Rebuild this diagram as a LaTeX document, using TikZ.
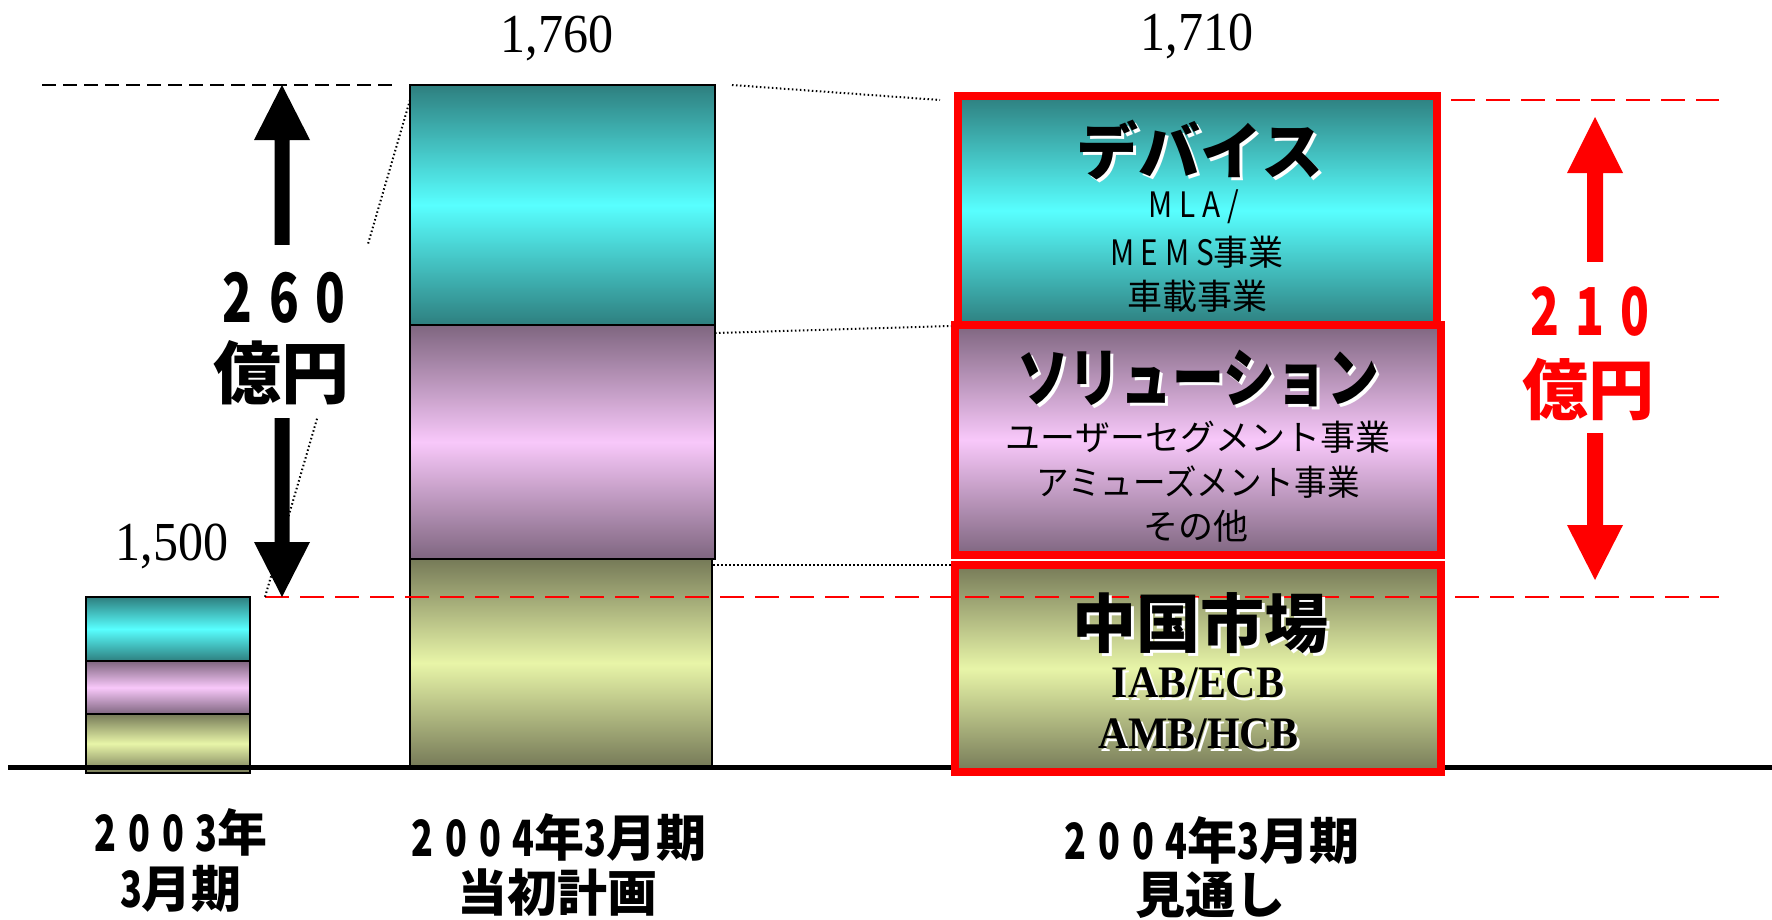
\documentclass[tikz,border=0pt]{standalone}
\usepackage{fontspec}
\usepackage{graphicx}
\setmainfont{Liberation Serif}
\newfontfamily\jp{Noto Sans CJK JP}
\newcommand\cd[1]{\scalebox{0.72}[1]{#1}}
\definecolor{tealD}{HTML}{2E7F7F}
\definecolor{tealL}{HTML}{58FFFF}
\definecolor{purD}{HTML}{7F6680}
\definecolor{purL}{HTML}{F8C8FA}
\definecolor{oliD}{HTML}{767A58}
\definecolor{oliL}{HTML}{E8F5A8}
\begin{document}
\begin{tikzpicture}[x=1pt,y=-1pt,
  bar/.style={draw=black,line width=2.5pt,rectangle,inner sep=0pt,outer sep=0pt,anchor=north west},
  redbox/.style={draw=red,line width=8pt,rectangle,inner sep=0pt,outer sep=0pt,anchor=north west},
  tealshade/.style={top color=tealD,bottom color=tealD,middle color=tealL},
  purshade/.style={top color=purD,bottom color=purD,middle color=purL},
  olishade/.style={top color=oliD,bottom color=oliD,middle color=oliL},
  num/.style={font=\fontsize{55}{55}\selectfont,inner sep=0pt,anchor=base},
  lbl/.style={font=\jp\bfseries\fontsize{50}{50}\selectfont,inner sep=0pt},
  big/.style={font=\jp\bfseries\fontsize{68}{68}\selectfont,inner sep=0pt},
  subtxt/.style={font=\jp\fontsize{35}{35}\selectfont,inner sep=0pt},
  headtxt/.style={font=\jp\bfseries\fontsize{62}{62}\selectfont,inner sep=0pt},
  latinhead/.style={font=\bfseries\fontsize{45}{45}\selectfont,inner sep=0pt},
  shadow/.style={text=white,xshift=3pt,yshift=-3pt},
  blackdash/.style={line width=2pt,dash pattern=on 14pt off 7pt},
  reddash/.style={draw=red,line width=2.5pt,dash pattern=on 24pt off 11pt},
  dotline/.style={line width=2pt,dash pattern=on 1.5pt off 2.5pt},
  mask/.style={fill=white,inner sep=0pt,outer sep=0pt,minimum width=176pt}
]
\useasboundingbox[fill=white] (0,0) rectangle (1772,919);

% bars
\node[bar,tealshade,minimum width=164pt,minimum height=64pt] (b1t) at (86,597) {};
\node[bar,purshade,minimum width=164pt,minimum height=53pt] (b1p) at (86,661) {};
\node[bar,olishade,minimum width=164pt,minimum height=59pt] (b1o) at (86,714) {};
\node[bar,tealshade,minimum width=305pt,minimum height=240pt] (b2t) at (410,85) {};
\node[bar,purshade,minimum width=305pt,minimum height=234pt] (b2p) at (410,325) {};
\node[bar,olishade,minimum width=302pt,minimum height=208pt] (b2o) at (410,559) {};

% baseline
\coordinate (bl0) at (8,767);
\coordinate (bl1) at (1772,767);
\draw[line width=5pt] (bl0) -- (bl1);

% right boxes
\node[redbox,tealshade,minimum width=479pt,minimum height=229pt] (dev) at (958,96) {};
\node[redbox,purshade,minimum width=486pt,minimum height=230pt] (sol) at (955,325) {};
\node[redbox,olishade,minimum width=486pt,minimum height=207pt] (chn) at (955,565) {};

% dashed reference lines
\coordinate (k0) at (42,85);
\coordinate (k1) at (395,85);
\draw[blackdash] (k0) -- (k1);
\coordinate (r0) at (265,597);
\coordinate (r1) at (1719,597);
\draw[reddash] (r0) -- (r1);
\coordinate (r2) at (1451,100);
\coordinate (r3) at (1719,100);
\draw[reddash] (r2) -- (r3);

% dotted connectors
\coordinate (d1a) at (732,85);
\coordinate (d1b) at (940,100);
\draw[dotline] (d1a) -- (d1b);
\coordinate (d2a) at (715,333);
\coordinate (d2b) at (951,326);
\draw[dotline] (d2a) -- (d2b);
\coordinate (d3a) at (713,565);
\coordinate (d3b) at (951,565);
\draw[dotline] (d3a) -- (d3b);
\coordinate (d4a) at (410,100);
\draw[dotline] (d4a) -- (r0);

% black double arrow
\fill (282,85) -- (310,140) -- (289.5,140) -- (289.5,542) -- (310,542) -- (282,597)
  -- (254,542) -- (274.5,542) -- (274.5,140) -- (254,140) -- cycle;
\node[mask,minimum height=173pt] (m260) at (282,331.5) {};
\node[big] (t260) at (284,298) {\cd{2}\hspace{17pt}\cd{6}\hspace{17pt}\cd{0}};
\node[big] (t260b) at (281,373) {億円};

% red double arrow
\fill[red] (1595,117) -- (1623,173) -- (1603,173) -- (1603,525) -- (1623,525) -- (1595,580)
  -- (1567,525) -- (1587,525) -- (1587,173) -- (1567,173) -- cycle;
\node[mask,minimum height=171pt] (m210) at (1595,347.5) {};
\node[big,text=red,font=\jp\bfseries\fontsize{66}{66}\selectfont] (t210) at (1590,312) {\cd{2}\hspace{16pt}\cd{1}\hspace{16pt}\cd{0}};
\node[big,text=red,font=\jp\bfseries\fontsize{66}{66}\selectfont] (t210b) at (1588,389) {億円};

% totals
\node[num] (v1760) at (557,52) {\scalebox{0.91}[1]{1,760}};
\node[num] (v1710) at (1197,50) {\scalebox{0.91}[1]{1,710}};
\node[num] (v1500) at (172,560) {\scalebox{0.91}[1]{1,500}};

% device box text
\node[headtxt,shadow] (hdevs) at (1200,150) {デバイス};
\node[headtxt] (hdev) at (1200,150) {デバイス};
\node[subtxt] (sdev1) at (1194,207) {\scalebox{0.85}[1]{M\hspace{8pt}L\hspace{8pt}A\hspace{8pt}/}};
\node[subtxt] (sdev2) at (1197,252) {\scalebox{0.85}[1]{M\hspace{8pt}E\hspace{8pt}M\hspace{8pt}S}事業};
\node[subtxt] (sdev3) at (1197,296) {車載事業};

% solution box text
\node[headtxt,shadow,font=\jp\bfseries\fontsize{64}{64}\selectfont] (hsols) at (1198,378) {\scalebox{0.81}[1]{ソリューション}};
\node[headtxt,font=\jp\bfseries\fontsize{64}{64}\selectfont] (hsol) at (1198,378) {\scalebox{0.81}[1]{ソリューション}};
\node[subtxt] (ssol1) at (1198,437) {ユーザーセグメント事業};
\node[subtxt] (ssol2) at (1198,482) {\scalebox{0.93}[1]{アミューズメント事業}};
\node[subtxt] (ssol3) at (1196,526) {その他};

% china box text
\node[headtxt,shadow,font=\jp\bfseries\fontsize{64}{64}\selectfont] (hchns) at (1200,623) {中国市場};
\node[headtxt,font=\jp\bfseries\fontsize{64}{64}\selectfont] (hchn) at (1200,623) {中国市場};
\node[latinhead,shadow] (schn1s) at (1198,683) {\scalebox{0.93}[1]{IAB/ECB}};
\node[latinhead] (schn1) at (1198,683) {\scalebox{0.93}[1]{IAB/ECB}};
\node[latinhead,shadow] (schn2s) at (1198,734) {\scalebox{0.93}[1]{AMB/HCB}};
\node[latinhead] (schn2) at (1198,734) {\scalebox{0.93}[1]{AMB/HCB}};

% axis labels
\node[lbl] (x1a) at (181,832) {\cd{2}\hspace{12pt}\cd{0}\hspace{12pt}\cd{0}\hspace{12pt}\cd{3}年};
\node[lbl] (x1b) at (181,889) {\cd{3}月期};
\node[lbl] (x2a) at (559,837) {\cd{2}\hspace{12pt}\cd{0}\hspace{12pt}\cd{0}\hspace{12pt}\cd{4}年\cd{3}月期};
\node[lbl] (x2b) at (557,893) {当初計画};
\node[lbl] (x3a) at (1212,840) {\cd{2}\hspace{12pt}\cd{0}\hspace{12pt}\cd{0}\hspace{12pt}\cd{4}年\cd{3}月期};
\node[lbl] (x3b) at (1210,895) {見通し};
\end{tikzpicture}
\end{document}
